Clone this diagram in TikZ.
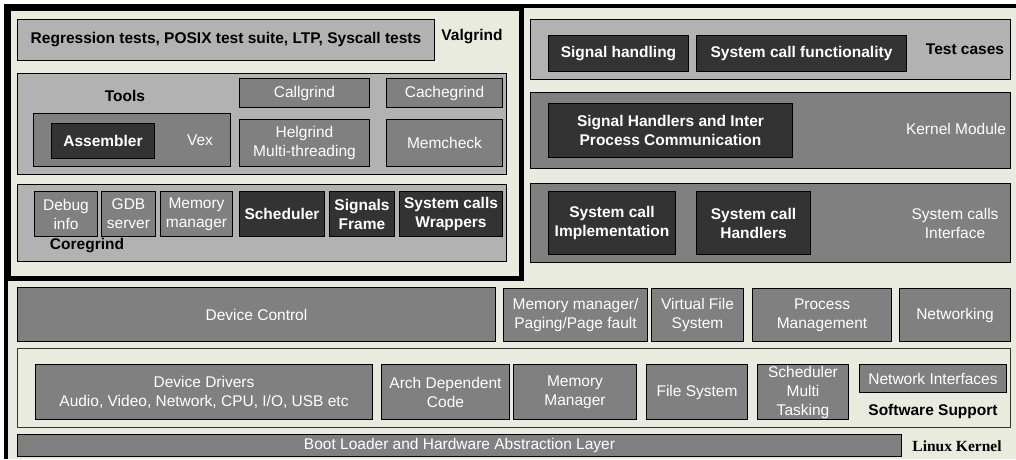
\documentclass[tikz,border=0pt]{standalone}
\usepackage{fontspec}
\setmainfont{Liberation Sans}
\newfontfamily\timesfont{Liberation Serif}
\usetikzlibrary{positioning}
\definecolor{bgpanel}{HTML}{E9EBDF}
\definecolor{litegray}{HTML}{B2B2B2}
\definecolor{midgray}{HTML}{808080}
\definecolor{boxdark}{HTML}{333333}

\begin{document}
\begin{tikzpicture}[x=1pt,y=-1pt,
  every node/.style={font=\fontsize{15.5}{19}\selectfont,align=center,inner sep=0pt},
  box/.style={draw=black,line width=1pt,anchor=north west},
  lite/.style={box,fill=litegray},
  mid/.style={box,fill=midgray,text=white},
  dark/.style={box,fill=boxdark,text=white,font=\fontsize{15.5}{19}\selectfont\bfseries},
  tag/.style={font=\fontsize{15.5}{19}\selectfont\bfseries}]
  \useasboundingbox (0,0) rectangle (1016,459);
  \fill[white] (0,0) rectangle (1016,459);
  \fill[bgpanel] (6,6) rectangle (1016,459);
  \draw[line width=4.5pt] (6,459) -- (6,6) -- (1016,6);

  % Valgrind
  \node[draw,line width=5pt,anchor=north west,minimum width=513pt,minimum height=270pt] (valgrind) at (6,6) {};
  \node[lite,tag,minimum width=417pt,minimum height=41pt] (regress) at (17,19) {Regression tests, POSIX test suite, LTP, Syscall tests};
  \node[tag] (valgrindlbl) at (472,37) {Valgrind};

  \node[lite,minimum width=489pt,minimum height=101pt] (tools) at (17,73) {};
  \node[tag] (toolslbl) at (125,96) {Tools};
  \node[mid,minimum width=130pt,minimum height=29pt] (callgrind) at (239,78) {Callgrind};
  \node[mid,minimum width=116pt,minimum height=29pt] (cachegrind) at (386,78) {Cachegrind};
  \node[mid,minimum width=197pt,minimum height=53pt] (vex) at (33,113) {};
  \node[text=white] (vexlbl) at (200,140) {Vex};
  \node[dark,minimum width=103pt,minimum height=35pt] (assembler) at (51,123) {Assembler};
  \node[mid,minimum width=130pt,minimum height=47pt] (helgrind) at (239,119) {Helgrind\\Multi-threading};
  \node[mid,minimum width=116pt,minimum height=47pt] (memcheck) at (386,119) {Memcheck};

  \node[lite,minimum width=489pt,minimum height=77pt] (coregrind) at (17,184) {};
  \node[mid,minimum width=63pt,minimum height=45pt] (debuginfo) at (34,191) {Debug\\info};
  \node[mid,minimum width=54pt,minimum height=45pt] (gdbserver) at (101,191) {GDB\\server};
  \node[mid,minimum width=72pt,minimum height=45pt] (memmanager) at (160,191) {Memory\\manager};
  \node[dark,minimum width=85pt,minimum height=45pt] (scheduler) at (239,191) {Scheduler};
  \node[dark,minimum width=65pt,minimum height=45pt] (signals) at (329,191) {Signals\\Frame};
  \node[dark,minimum width=103pt,minimum height=45pt] (wrappers) at (399,191) {System calls\\Wrappers};
  \node[tag] (coregrindlbl) at (87,246) {Coregrind};

  % test cases and kernel side
  \node[lite,minimum width=480pt,minimum height=60pt] (testcases) at (530,19) {};
  \node[dark,minimum width=140pt,minimum height=36pt] (sighandling) at (548,35) {Signal handling};
  \node[dark,minimum width=210pt,minimum height=36pt] (sysfunc) at (696,35) {System call functionality};
  \node[tag] (testcaseslbl) at (965,49) {Test cases};

  \node[mid,minimum width=480pt,minimum height=76pt] (kmodule) at (530,92) {};
  \node[dark,minimum width=244pt,minimum height=54pt] (sigipc) at (548,103) {Signal Handlers and Inter\\Process Communication};
  \node[text=white] (kmodulelbl) at (956,129) {Kernel Module};

  \node[mid,minimum width=480pt,minimum height=79pt] (sysiface) at (530,183) {};
  \node[dark,minimum width=127pt,minimum height=63pt] (sysimpl) at (548,191) {System call\\Implementation};
  \node[dark,minimum width=114pt,minimum height=63pt] (syshandlers) at (696,191) {System call\\Handlers};
  \node[text=white] (sysifacelbl) at (955,223) {System calls\\Interface};

  % kernel layers
  \node[mid,minimum width=478pt,minimum height=54pt] (devcontrol) at (17,287) {Device Control};
  \node[mid,minimum width=144pt,minimum height=53pt] (paging) at (503,288) {Memory manager/\\Paging/Page fault};
  \node[mid,minimum width=92pt,minimum height=53pt] (vfs) at (651,288) {Virtual File\\System};
  \node[mid,minimum width=139pt,minimum height=53pt] (procmgmt) at (752,288) {Process\\Management};
  \node[mid,minimum width=111pt,minimum height=53pt] (networking) at (899,288) {Networking};

  \node[box,draw=boxdark,fill=bgpanel,minimum width=993pt,minimum height=79pt] (software) at (17,348) {};
  \node[mid,minimum width=337pt,minimum height=55pt] (drivers) at (35,364) {Device Drivers\\Audio, Video, Network, CPU, I/O, USB etc};
  \node[mid,minimum width=128pt,minimum height=55pt] (archcode) at (381,364) {Arch Dependent\\Code};
  \node[mid,minimum width=123pt,minimum height=55pt] (memmgr) at (513,364) {Memory\\Manager};
  \node[mid,minimum width=101pt,minimum height=55pt] (filesys) at (646,364) {File System};
  \node[mid,minimum width=91pt,minimum height=55pt] (multitask) at (757,364) {Scheduler\\Multi\\Tasking};
  \node[mid,minimum width=147pt,minimum height=28pt] (netif) at (859,364) {Network Interfaces};
  \node[tag] (softwarelbl) at (933,411) {Software Support};

  \node[mid,minimum width=884pt,minimum height=22pt] (bootloader) at (17,434) {Boot Loader and Hardware Abstraction Layer};
  \node[font=\fontsize{15.5}{19}\selectfont\timesfont\bfseries] (linuxlbl) at (957,446) {Linux Kernel};
\end{tikzpicture}
\end{document}
